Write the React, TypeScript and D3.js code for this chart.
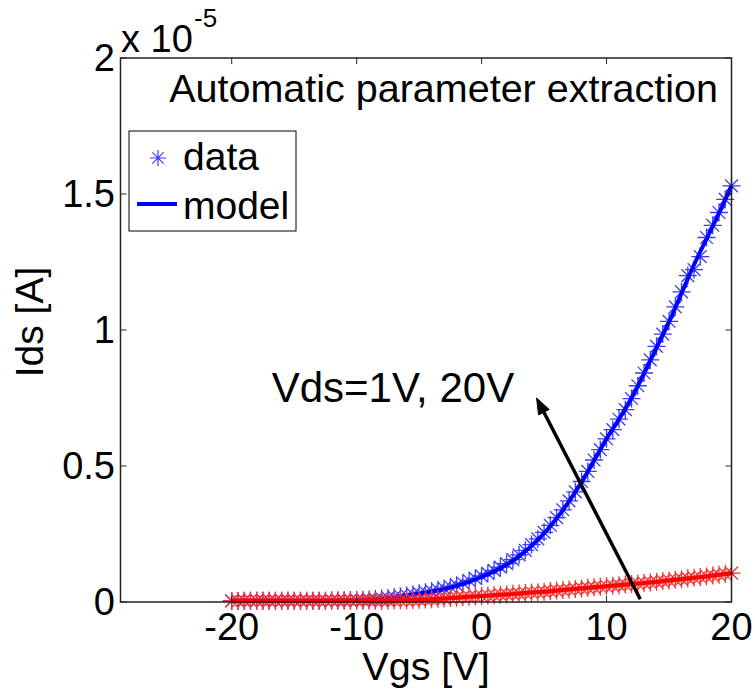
import React from "react";
import * as d3 from "d3";

const xTicks = [-20, -10, 0, 10, 20];
const yTicks = [0, 0.5, 1, 1.5, 2];
const yTickLabels = ["0", "0.5", "1", "1.5", "2"];

const vgsData = [
  -20, -19.5, -19, -18.5, -18, -17.5, -17, -16.5, -16, -15.5, -15, -14.5, -14, -13.5, -13, -12.5,
  -12, -11.5, -11, -10.5, -10, -9.5, -9, -8.5, -8, -7.5, -7, -6.5, -6, -5.5, -5, -4.5, -4, -3.5,
  -3, -2.5, -2, -1.5, -1, -0.5, 0, 0.5, 1, 1.5, 2, 2.5, 3, 3.5, 4, 4.5, 5, 5.5, 6, 6.5, 7, 7.5,
  8, 8.5, 9, 9.5, 10, 10.5, 11, 11.5, 12, 12.5, 13, 13.5, 14, 14.5, 15, 15.5, 16, 16.5, 17, 17.5,
  18, 18.5, 19, 19.5, 20,
];

// Ids (x 1e-5 A), Vds = 20 V, measured
const blueData = [
  0.004, 0.004, 0.005, 0.005, 0.005, 0.005, 0.005, 0.005, 0.005, 0.005, 0.005, 0.005, 0.005, 0.005, 0.005, 0.005,
  0.006, 0.006, 0.006, 0.007, 0.007, 0.008, 0.009, 0.011, 0.013, 0.015, 0.018, 0.021, 0.024, 0.028, 0.032, 0.036, 0.04, 0.045,
  0.05, 0.056, 0.062, 0.07, 0.079, 0.087, 0.096, 0.105, 0.116, 0.128, 0.141, 0.156, 0.173, 0.19, 0.211, 0.232, 0.256, 0.282, 0.31, 0.339, 0.372, 0.405,
  0.443, 0.48, 0.522, 0.56, 0.6, 0.634, 0.672, 0.707, 0.748, 0.795, 0.842, 0.89, 0.94, 0.985, 1.032, 1.085, 1.14, 1.2, 1.222, 1.27,
  1.34, 1.385, 1.432, 1.48, 1.53,
];

// Ids (x 1e-5 A), Vds = 1 V, measured
const redData = [
  0.004, 0.004, 0.005, 0.005, 0.005, 0.005, 0.005, 0.005, 0.005, 0.005, 0.005, 0.005, 0.005, 0.005, 0.005, 0.005,
  0.005, 0.005, 0.005, 0.005, 0.005, 0.005, 0.005, 0.005, 0.005, 0.005, 0.006, 0.006, 0.006, 0.007, 0.008, 0.009, 0.01, 0.012,
  0.013, 0.015, 0.016, 0.018, 0.019, 0.021, 0.022, 0.024, 0.025, 0.027, 0.028, 0.03, 0.031, 0.033, 0.035, 0.036, 0.038, 0.04, 0.042, 0.044, 0.046, 0.048,
  0.05, 0.052, 0.054, 0.056, 0.058, 0.06, 0.062, 0.064, 0.066, 0.068, 0.07, 0.072, 0.074, 0.077, 0.079, 0.082, 0.084, 0.087, 0.089, 0.092,
  0.094, 0.097, 0.1, 0.103, 0.106,
];

const vgsModel = [
  -20, -19, -18, -17, -16, -15, -14, -13, -12, -11, -10, -9, -8, -7, -6, -5, -4, -3, -2, -1, 0,
  1, 2, 3, 4, 5, 6, 7, 8, 9, 10, 11, 12, 13, 14, 15, 16, 17, 18, 19, 20,
];

const blueModel = [
  0.005, 0.005, 0.005, 0.005, 0.005, 0.005, 0.005, 0.005, 0.006, 0.006, 0.007, 0.009, 0.012, 0.017, 0.023, 0.03, 0.038, 0.047, 0.059, 0.074, 0.092,
  0.112, 0.137, 0.168, 0.207, 0.252, 0.307, 0.37, 0.44, 0.52, 0.6, 0.673, 0.75, 0.84, 0.935, 1.03, 1.135, 1.24, 1.335, 1.43, 1.53,
];

const redModel = [
  0.005, 0.005, 0.005, 0.005, 0.005, 0.005, 0.005, 0.005, 0.005, 0.005, 0.005, 0.005, 0.005, 0.005, 0.006, 0.008, 0.01, 0.013, 0.016, 0.019, 0.022,
  0.025, 0.028, 0.031, 0.035, 0.038, 0.042, 0.046, 0.05, 0.054, 0.058, 0.062, 0.066, 0.07, 0.074, 0.079, 0.084, 0.089, 0.094, 0.1, 0.106,
];

const arrowFrom = [12.7, 0.01];
const arrowTo = [4.4, 0.75];
const annotationPos = [-16.8, 0.735];

const W = 755;
const H = 689;
const FONT = "'Liberation Sans', Arial, Helvetica, sans-serif";

export default function App() {
  const x = d3.scaleLinear().domain([-28.9, 20]).range([120.5, 731.5]);
  const y = d3.scaleLinear().domain([0, 2]).range([602, 58]);
  const [x0, x1] = x.range();
  const [yb, yt] = y.range();

  const modelPath = (vals: number[]) =>
    d3
      .line<number>()
      .x((_, i) => x(vgsModel[i]))
      .y((v) => y(v))
      .curve(d3.curveMonotoneX)(vals) as string;

  const star = (cx: number, cy: number, s: number) => {
    const d = s * 0.7071;
    return `M${cx - s},${cy}H${cx + s}M${cx},${cy - s}V${cy + s}M${cx - d},${cy - d}L${cx + d},${cy + d}M${cx - d},${cy + d}L${cx + d},${cy - d}`;
  };

  const starsPath = (vals: number[]) =>
    vals.map((v, i) => star(x(vgsData[i]), y(v), 9)).join("");

  // arrow geometry
  const ax0 = x(arrowFrom[0]);
  const ay0 = y(arrowFrom[1]);
  const ax1 = x(arrowTo[0]);
  const ay1 = y(arrowTo[1]);
  const ang = Math.atan2(ay1 - ay0, ax1 - ax0);
  const hl = 16;
  const hw = 6;
  const bx = ax1 - hl * Math.cos(ang);
  const by = ay1 - hl * Math.sin(ang);
  const px = -Math.sin(ang);
  const py = Math.cos(ang);
  const head = `M${ax1},${ay1}L${bx + hw * px},${by + hw * py}L${bx - hw * px},${by - hw * py}Z`;

  const tickLen = 6;

  return (
    <svg
      width={W}
      height={H}
      style={{ position: "absolute", left: 0, top: 0, background: "#fff" }}
      fontFamily={FONT}
    >
      <rect x={0} y={0} width={W} height={H} fill="#fff" />

      {/* data & model */}
      <path d={starsPath(blueData)} stroke="#3b3bff" strokeWidth={1.3} fill="none" />
      <path d={modelPath(blueModel)} stroke="#0000ff" strokeWidth={4} fill="none" strokeLinejoin="round" />
      <path d={starsPath(redData)} stroke="#ff2d2d" strokeWidth={1.3} fill="none" />
      <path d={modelPath(redModel)} stroke="#ff0000" strokeWidth={4} fill="none" strokeLinejoin="round" />

      {/* axes box */}
      <rect x={x0} y={yt} width={x1 - x0} height={yb - yt} fill="none" stroke="#222" strokeWidth={1.5} />

      {/* x ticks */}
      {xTicks.map((t) => (
        <g key={"xt" + t}>
          <line x1={x(t)} x2={x(t)} y1={yb} y2={yb - tickLen} stroke="#222" strokeWidth={1} />
          <line x1={x(t)} x2={x(t)} y1={yt} y2={yt + tickLen} stroke="#222" strokeWidth={1} />
          <text x={x(t)} y={640} fontSize={38} textAnchor="middle" fill="#000">
            {String(t)}
          </text>
        </g>
      ))}

      {/* y ticks */}
      {yTicks.map((t, i) => (
        <g key={"yt" + t}>
          <line x1={x0} x2={x0 + tickLen} y1={y(t)} y2={y(t)} stroke="#222" strokeWidth={1} />
          <line x1={x1} x2={x1 - tickLen} y1={y(t)} y2={y(t)} stroke="#222" strokeWidth={1} />
          <text x={115} y={y(t) + 13} fontSize={38} textAnchor="end" fill="#000">
            {yTickLabels[i]}
          </text>
        </g>
      ))}

      {/* exponent */}
      <text x={121} y={52} fontSize={38} fill="#000">
        x 10
      </text>
      <text x={194} y={27} fontSize={26} fill="#000">
        -5
      </text>

      {/* axis labels */}
      <text x={(x0 + x1) / 2} y={680} fontSize={39.5} textAnchor="middle" fill="#000">
        Vgs [V]
      </text>
      <text
        transform={`translate(43,322) rotate(-90)`}
        fontSize={39}
        textAnchor="middle"
        fill="#000"
      >
        Ids [A]
      </text>

      {/* title inside */}
      <text x={718} y={102} fontSize={39.5} textAnchor="end" fill="#000">
        Automatic parameter extraction
      </text>

      {/* legend */}
      <rect x={129} y={131} width={167} height={100} fill="#fff" stroke="#000" strokeWidth={1} />
      <path d={star(158, 158, 8)} stroke="#3b3bff" strokeWidth={1.2} fill="none" />
      <text x={183} y={170} fontSize={39} fill="#000">
        data
      </text>
      <line x1={137} x2={177} y1={204} y2={204} stroke="#0000ff" strokeWidth={4} />
      <text x={183} y={219} fontSize={39} fill="#000">
        model
      </text>

      {/* annotation */}
      <line x1={ax0} y1={ay0} x2={bx} y2={by} stroke="#000" strokeWidth={3.5} />
      <path d={head} fill="#000" stroke="#000" strokeWidth={1} />
      <text x={x(annotationPos[0])} y={y(annotationPos[1])} fontSize={42} fill="#000">
        Vds=1V, 20V
      </text>
    </svg>
  );
}
